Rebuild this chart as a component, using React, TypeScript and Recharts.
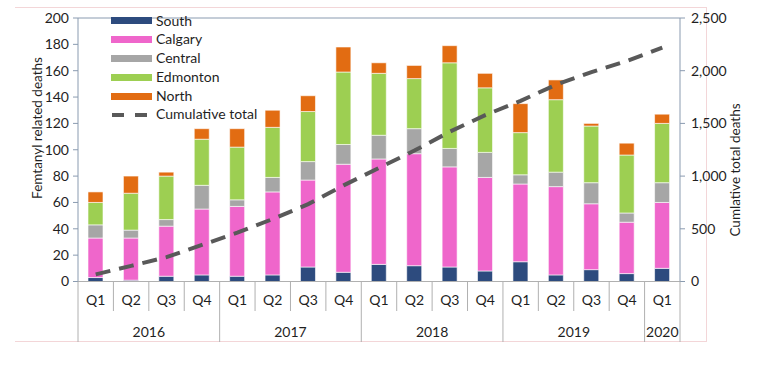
import React from 'react'
import {
  ComposedChart, Bar, Line, XAxis, YAxis, ReferenceLine, Label,
} from 'recharts'

const quarterLabels = ['Q1', 'Q2', 'Q3', 'Q4', 'Q1', 'Q2', 'Q3', 'Q4', 'Q1', 'Q2', 'Q3', 'Q4', 'Q1', 'Q2', 'Q3', 'Q4', 'Q1']
const yearLabels = ['2016', '2016', '2016', '2016', '2017', '2017', '2017', '2017', '2018', '2018', '2018', '2018', '2019', '2019', '2019', '2019', '2020']

const south = [3, 1, 4, 5, 4, 5, 11, 7, 13, 12, 11, 8, 15, 5, 9, 6, 10]
const calgary = [30, 32, 38, 50, 53, 63, 66, 82, 80, 85, 76, 71, 59, 67, 50, 39, 50]
const central = [10, 6, 5, 18, 5, 11, 14, 15, 18, 19, 14, 19, 7, 11, 16, 7, 15]
const edmonton = [17, 28, 33, 35, 40, 38, 38, 55, 47, 38, 65, 49, 32, 55, 43, 44, 45]
const north = [8, 13, 3, 8, 14, 13, 12, 19, 8, 10, 13, 11, 22, 15, 2, 9, 7]
const cumulative = [68, 148, 231, 347, 463, 593, 734, 912, 1078, 1242, 1421, 1579, 1714, 1867, 1987, 2092, 2219]

const leftTicks = [0, 20, 40, 60, 80, 100, 120, 140, 160, 180, 200]
const rightTicks = [0, 500, 1000, 1500, 2000, 2500]

const data = quarterLabels.map((q, i) => ({
  id: `${yearLabels[i]} ${q}`,
  quarter: q,
  year: yearLabels[i],
  south: south[i],
  calgary: calgary[i],
  central: central[i],
  edmonton: edmonton[i],
  north: north[i],
  cumulative: cumulative[i],
}))

const bars = [
  { key: 'south', name: 'South', color: '#2d4b7e' },
  { key: 'calgary', name: 'Calgary', color: '#ef66cb' },
  { key: 'central', name: 'Central', color: '#a6a6a6' },
  { key: 'edmonton', name: 'Edmonton', color: '#9dcf52' },
  { key: 'north', name: 'North', color: '#e26c12' },
]

const FONT = 'Lato, "Open Sans", sans-serif'
const TEXT = '#1f1f1f'
const AXIS = '#8a9bb0'
const SEP = '#b0b0b0'
const PLOT_LEFT = 78
const PLOT_RIGHT = 680
const PLOT_BOTTOM = 281.5
const BAND = (PLOT_RIGHT - PLOT_LEFT) / data.length

const QuarterTick = (props: any) => {
  const { x, payload } = props
  const i = payload.index
  const left = x - BAND / 2
  const yearStart = i === 0 || yearLabels[i] !== yearLabels[i - 1]
  let groupSize = 0
  if (yearStart) {
    while (i + groupSize < yearLabels.length && yearLabels[i + groupSize] === yearLabels[i]) groupSize++
  }
  const isLast = i === data.length - 1
  return (
    <g>
      <line x1={left} x2={left} y1={PLOT_BOTTOM} y2={yearStart ? 342 : 311} stroke={SEP} strokeWidth={1} />
      {isLast && <line x1={left + BAND} x2={left + BAND} y1={PLOT_BOTTOM} y2={342} stroke={SEP} strokeWidth={1} />}
      <text x={x} y={305} textAnchor="middle" fontFamily={FONT} fontSize={14} fill={TEXT}>{quarterLabels[i]}</text>
      {yearStart && (
        <text x={x + ((groupSize - 1) * BAND) / 2} y={337} textAnchor="middle" fontFamily={FONT} fontSize={14} fill={TEXT}>
          {yearLabels[i]}
        </text>
      )}
    </g>
  )
}

const LegendBox = () => (
  <div style={{ position: 'absolute', left: 111, top: 11.5, fontFamily: FONT, fontSize: 14, color: TEXT, lineHeight: '18.8px' }}>
    {bars.map((b) => (
      <div key={b.key} style={{ display: 'flex', alignItems: 'center', height: 18.8 }}>
        <span style={{ display: 'inline-block', width: 41, height: 7, background: b.color, marginRight: 4 }} />
        <span>{b.name}</span>
      </div>
    ))}
    <div style={{ display: 'flex', alignItems: 'center', height: 18.8 }}>
      <svg width={41} height={8} style={{ marginRight: 4 }}>
        <line x1={1} x2={40} y1={4} y2={4} stroke="#595959" strokeWidth={4} strokeDasharray="12 11" />
      </svg>
      <span>Cumulative total</span>
    </div>
  </div>
)

export default function App() {
  return (
    <div style={{ position: 'absolute', left: 0, top: 0, width: 760, height: 374, background: '#fff' }}>
      <div style={{ position: 'absolute', left: 15, top: 7, width: 692, height: 335, borderTop: '1px solid #f3d6d8', borderRight: '1px solid #f3d6d8', borderBottom: '1px solid #f3d6d8', boxSizing: 'border-box' }} />
      <ComposedChart
        width={760}
        height={374}
        data={data}
        margin={{ top: 18, right: 30, bottom: 32, left: 28 }}
        barSize={15}
        style={{ fontFamily: FONT }}
      >
        <XAxis
          dataKey="id"
          height={60.5}
          interval={0}
          tickLine={false}
          axisLine={{ stroke: SEP }}
          tick={<QuarterTick />}
        />
        <YAxis
          yAxisId="left"
          width={50}
          domain={[0, 200]}
          ticks={leftTicks}
          interval={0}
          tick={{ fontSize: 14, fill: TEXT, fontFamily: FONT }}
          tickSize={5}
          tickMargin={4}
          axisLine={{ stroke: AXIS }}
          tickLine={{ stroke: AXIS }}
        >
          <Label
            content={({ viewBox }: any) => {
              const cx = viewBox.x + 9
              const cy = 128
              return (
                <text x={cx} y={cy} transform={`rotate(-90 ${cx} ${cy})`} textAnchor="middle" dominantBaseline="central" fontFamily={FONT} fontSize={13.5} fill={TEXT}>
                  Femtanyl related deaths
                </text>
              )
            }}
          />
        </YAxis>
        <YAxis
          yAxisId="right"
          orientation="right"
          width={50}
          domain={[0, 2500]}
          ticks={rightTicks}
          interval={0}
          tickFormatter={(v: number) => v.toLocaleString('en-US')}
          tick={{ fontSize: 14, fill: TEXT, fontFamily: FONT }}
          tickSize={5}
          tickMargin={6}
          axisLine={{ stroke: AXIS }}
          tickLine={{ stroke: AXIS }}
        >
          <Label
            content={({ viewBox }: any) => {
              const cx = viewBox.x + 55
              const cy = 170
              return (
                <text x={cx} y={cy} transform={`rotate(-90 ${cx} ${cy})`} textAnchor="middle" dominantBaseline="central" fontFamily={FONT} fontSize={13.5} fill={TEXT}>
                  Cumlative total deaths
                </text>
              )
            }}
          />
        </YAxis>
        <ReferenceLine yAxisId="left" y={200} stroke={AXIS} ifOverflow="visible" />
        {bars.map((b) => (
          <Bar
            key={b.key}
            yAxisId="left"
            dataKey={b.key}
            name={b.name}
            stackId="deaths"
            fill={b.color}
            stroke="#ffffff"
            strokeWidth={0.6}
            isAnimationActive={false}
          />
        ))}
        <Line
          yAxisId="right"
          dataKey="cumulative"
          name="Cumulative total"
          stroke="#595959"
          strokeWidth={4}
          strokeDasharray="15 9"
          dot={false}
          activeDot={false}
          isAnimationActive={false}
        />
      </ComposedChart>
      <LegendBox />
    </div>
  )
}
